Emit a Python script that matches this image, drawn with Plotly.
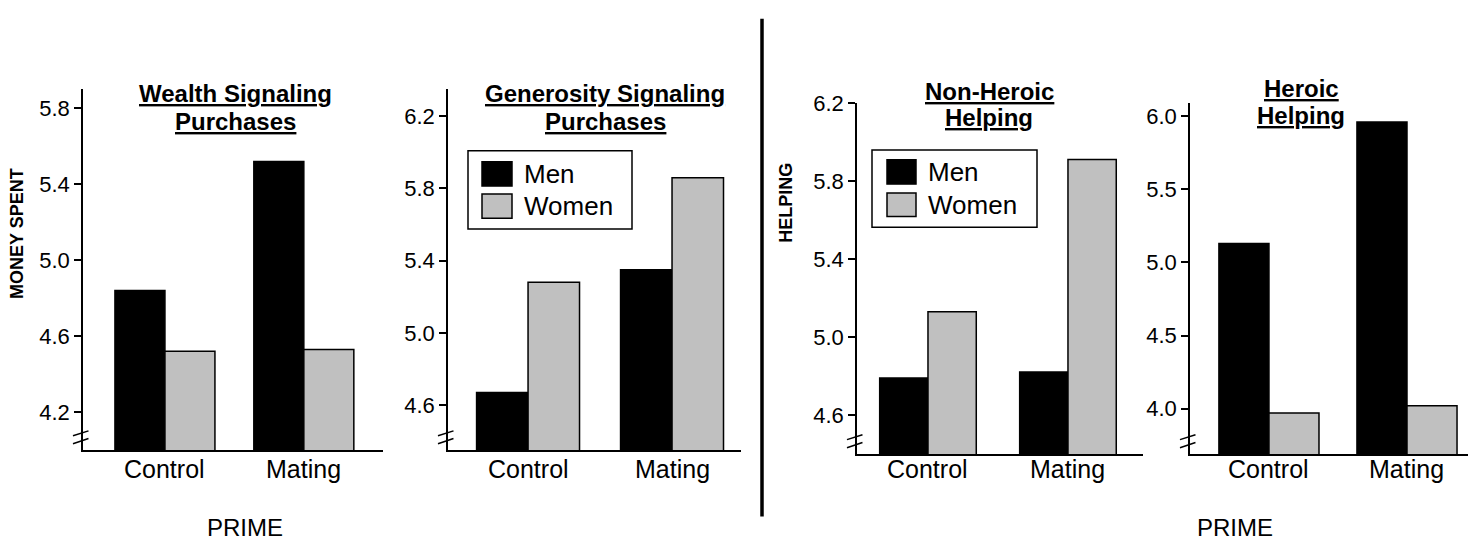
import plotly.graph_objects as go

W, H = 1478, 544
FONT = "Liberation Sans, Arial, sans-serif"
MEN_COLOR = "#000000"
WOMEN_COLOR = "#c0c0c0"

# Data
primes = ["Control", "Mating"]

wealth_men = [4.84, 5.52]
wealth_women = [4.52, 4.53]

generosity_men = [4.67, 5.35]
generosity_women = [5.28, 5.86]

nonheroic_men = [4.79, 4.82]
nonheroic_women = [5.13, 5.91]

heroic_men = [5.13, 5.96]
heroic_women = [3.97, 4.02]

wealth_ticks = [4.2, 4.6, 5.0, 5.4, 5.8]
generosity_ticks = [4.6, 5.0, 5.4, 5.8, 6.2]
nonheroic_ticks = [4.6, 5.0, 5.4, 5.8, 6.2]
heroic_ticks = [4.0, 4.5, 5.0, 5.5, 6.0]

panel_titles = [
    ["Wealth Signaling", "Purchases"],
    ["Generosity Signaling", "Purchases"],
    ["Non-Heroic", "Helping"],
    ["Heroic", "Helping"],
]

# Panel geometry in pixels: axis left/right, x-axis line (bottom), axis top,
# y range, x range, bar-group width, title centre x and line centres y
panels = [
    dict(men=wealth_men, women=wealth_women, ticks=wealth_ticks,
         left=83, right=383, bottom=448, top=79, yr=[4.0, 5.9],
         xr=[-0.59, 1.57], gw=0.72, tx=235, ty=(83, 112)),
    dict(men=generosity_men, women=generosity_women, ticks=generosity_ticks,
         left=448, right=741, bottom=448, top=79, yr=[4.35, 6.35],
         xr=[-0.556, 1.479], gw=0.715, tx=605, ty=(83, 112)),
    dict(men=nonheroic_men, women=nonheroic_women, ticks=nonheroic_ticks,
         left=857, right=1143, bottom=452, top=93, yr=[4.4, 6.2],
         xr=[-0.507, 1.536], gw=0.69, tx=989, ty=(81, 108)),
    dict(men=heroic_men, women=heroic_women, ticks=heroic_ticks,
         left=1190, right=1468, bottom=452, top=93, yr=[3.69, 6.09],
         xr=[-0.572, 1.442], gw=0.725, tx=1301, ty=(78, 106)),
]


def px(x):
    return x / W


def py(y):
    return (H - y) / H


fig = go.Figure()
shapes = []
annotations = []

for i, p in enumerate(panels, start=1):
    xa = "x" if i == 1 else f"x{i}"
    ya = "y" if i == 1 else f"y{i}"
    half = p["gw"] / 2
    fig.add_trace(go.Bar(
        x=primes, y=p["men"], name="Men", xaxis=xa, yaxis=ya,
        width=half, offset=-half, base=0,
        marker=dict(color=MEN_COLOR, line=dict(color="black", width=1.5)),
        showlegend=False,
    ))
    fig.add_trace(go.Bar(
        x=primes, y=p["women"], name="Women", xaxis=xa, yaxis=ya,
        width=half, offset=0, base=0,
        marker=dict(color=WOMEN_COLOR, line=dict(color="black", width=1.5)),
        showlegend=False,
    ))

    xkey = "xaxis" if i == 1 else f"xaxis{i}"
    ykey = "yaxis" if i == 1 else f"yaxis{i}"
    fig.update_layout(**{
        xkey: dict(
            domain=[px(p["left"]), px(p["right"])], anchor=ya,
            range=p["xr"], type="category", showline=True, linecolor="black",
            linewidth=1.5, ticks="", showgrid=False, zeroline=False,
            showticklabels=False, fixedrange=True,
        ),
        ykey: dict(
            domain=[py(p["bottom"]), py(p["top"])], anchor=xa,
            range=p["yr"], showline=True, linecolor="black", linewidth=1.5,
            ticks="outside", ticklen=7, tickwidth=1.5, tickcolor="black",
            tickvals=p["ticks"], tickformat=".1f", showgrid=False,
            zeroline=False, tickfont=dict(family=FONT, size=22, color="black"),
            fixedrange=True,
        ),
    })

    # Category names under each bar pair, placed on the category axis
    for cat in primes:
        annotations.append(dict(
            text=cat, xref=xa, yref="paper", x=cat, y=py(467),
            xanchor="center", yanchor="middle", showarrow=False,
            font=dict(family=FONT, size=25, color="black"),
        ))

    # Axis-break marks near the bottom of the y axis
    ax, bt = p["left"], p["bottom"]
    for dy0, dy1 in [(-14.7, -19.7), (-6.5, -11.8)]:
        shapes.append(dict(
            type="line", xref="paper", yref="paper",
            x0=px(ax - 10), y0=py(bt + dy0), x1=px(ax + 5.5), y1=py(bt + dy1),
            line=dict(color="black", width=1.5),
        ))

    for line_text, line_y in zip(panel_titles[i - 1], p["ty"]):
        annotations.append(dict(
            text="<b><u>" + line_text + "</u></b>",
            xref="paper", yref="paper", x=px(p["tx"]), y=py(line_y),
            xanchor="center", yanchor="middle", showarrow=False,
            font=dict(family=FONT, size=24, color="black"),
        ))

# Legends drawn as boxes with swatches
legend_boxes = [
    dict(box=(468, 142, 632, 222), sw_x=(482, 512),
         men_y=(153, 178), women_y=(186, 211), tx=522),
    dict(box=(872, 141, 1037, 220), sw_x=(887, 916),
         men_y=(151, 176), women_y=(185, 209), tx=926),
]
for lg in legend_boxes:
    x0, y0, x1, y1 = lg["box"]
    shapes.append(dict(type="rect", xref="paper", yref="paper",
                       x0=px(x0), y0=py(y0), x1=px(x1), y1=py(y1),
                       line=dict(color="black", width=1.5), fillcolor="white",
                       layer="above"))
    for (ya0, ya1), col, label in [(lg["men_y"], MEN_COLOR, "Men"),
                                   (lg["women_y"], WOMEN_COLOR, "Women")]:
        shapes.append(dict(type="rect", xref="paper", yref="paper",
                           x0=px(lg["sw_x"][0]), y0=py(ya0),
                           x1=px(lg["sw_x"][1]), y1=py(ya1),
                           line=dict(color="black", width=1.5), fillcolor=col,
                           layer="above"))
        annotations.append(dict(
            text=label, xref="paper", yref="paper", x=px(lg["tx"]),
            y=py((ya0 + ya1) / 2), xanchor="left", yanchor="middle",
            showarrow=False, font=dict(family=FONT, size=26, color="black"),
        ))

# Divider between the two studies
shapes.append(dict(type="line", xref="paper", yref="paper",
                   x0=px(762), y0=py(7), x1=px(762), y1=py(516),
                   line=dict(color="black", width=3.5)))

# Axis titles and the shared x label
annotations += [
    dict(text="<b>MONEY SPENT</b>", xref="paper", yref="paper",
         x=px(17), y=py(227), textangle=-90, showarrow=False,
         xanchor="center", yanchor="middle",
         font=dict(family=FONT, size=18, color="black")),
    dict(text="<b>HELPING</b>", xref="paper", yref="paper",
         x=px(786), y=py(195), textangle=-90, showarrow=False,
         xanchor="center", yanchor="middle",
         font=dict(family=FONT, size=18, color="black")),
    dict(text="PRIME", xref="paper", yref="paper", x=px(245), y=py(527),
         showarrow=False, xanchor="center", yanchor="middle",
         font=dict(family=FONT, size=24, color="black")),
    dict(text="PRIME", xref="paper", yref="paper", x=px(1235), y=py(527),
         showarrow=False, xanchor="center", yanchor="middle",
         font=dict(family=FONT, size=24, color="black")),
]

fig.update_layout(
    width=W, height=H, margin=dict(l=0, r=0, t=0, b=0),
    paper_bgcolor="white", plot_bgcolor="white",
    barmode="group", showlegend=False,
    shapes=shapes, annotations=annotations,
    font=dict(family=FONT, color="black"),
)

fig.write_html("out.html", config={"displayModeBar": False})
